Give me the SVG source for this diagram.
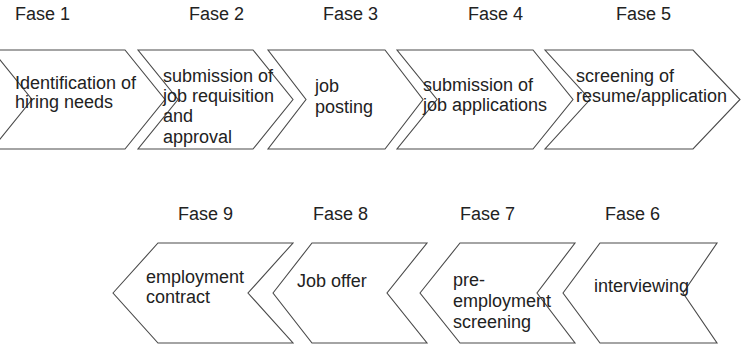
<svg xmlns="http://www.w3.org/2000/svg" width="743" height="347" viewBox="0 0 743 347">
<style>
.bg{fill:#ffffff}
.chev{fill:none;stroke:#4a4a4a;stroke-width:1.1;stroke-linejoin:miter}
.lbl{font-family:"Liberation Sans",Arial,sans-serif;font-size:18px;fill:#222222}
</style>
<rect class="bg" x="0" y="0" width="743" height="347"/>
<g id="connectors"></g>
<g id="fase1">
<text class="lbl" x="15" y="20">Fase 1</text>
<polygon class="chev" points="-8,50 125,50 165,99.5 125,149 -8,149 32,99.5"/>
<text class="lbl" x="15" y="89">Identification of</text>
<text class="lbl" x="15" y="108">hiring needs</text>
</g>
<g id="fase2">
<text class="lbl" x="189" y="20">Fase 2</text>
<polygon class="chev" points="138,50 253,50 293,99.5 253,149 138,149 178,99.5"/>
<text class="lbl" x="163" y="82">submission of</text>
<text class="lbl" x="163" y="102">job requisition</text>
<text class="lbl" x="163" y="122">and</text>
<text class="lbl" x="163" y="143">approval</text>
</g>
<g id="fase3">
<text class="lbl" x="323" y="20">Fase 3</text>
<polygon class="chev" points="268,50 385,50 423,99.5 385,149 268,149 306,99.5"/>
<text class="lbl" x="315" y="92">job</text>
<text class="lbl" x="315" y="113">posting</text>
</g>
<g id="fase4">
<text class="lbl" x="468" y="20">Fase 4</text>
<polygon class="chev" points="397,50 533,50 573,99.5 533,149 397,149 437,99.5"/>
<text class="lbl" x="423" y="91">submission of</text>
<text class="lbl" x="423" y="111">job applications</text>
</g>
<g id="fase5">
<text class="lbl" x="616" y="20">Fase 5</text>
<polygon class="chev" points="545,50 693,50 740,99.5 693,149 545,149 590,99.5"/>
<text class="lbl" x="576" y="82">screening of</text>
<text class="lbl" x="576" y="102">resume/application</text>
</g>
<g id="fase9">
<text class="lbl" x="178" y="220">Fase 9</text>
<polygon class="chev" points="113,293 158,243 293,243 248,293 293,343 158,343"/>
<text class="lbl" x="146" y="283">employment</text>
<text class="lbl" x="146" y="303">contract</text>
</g>
<g id="fase8">
<text class="lbl" x="313" y="220">Fase 8</text>
<polygon class="chev" points="273,293 312,243 427,243 387,293 427,343 312,343"/>
<text class="lbl" x="297" y="287">Job offer</text>
</g>
<g id="fase7">
<text class="lbl" x="460" y="220">Fase 7</text>
<polygon class="chev" points="420,293 460,243 575,243 537,293 575,343 460,343"/>
<text class="lbl" x="453" y="286">pre-</text>
<text class="lbl" x="453" y="307">employment</text>
<text class="lbl" x="453" y="328">screening</text>
</g>
<g id="fase6">
<text class="lbl" x="605" y="220">Fase 6</text>
<polygon class="chev" points="563,293 600,243 717,243 683,293 717,343 600,343"/>
<text class="lbl" x="594" y="292">interviewing</text>
</g>
</svg>
